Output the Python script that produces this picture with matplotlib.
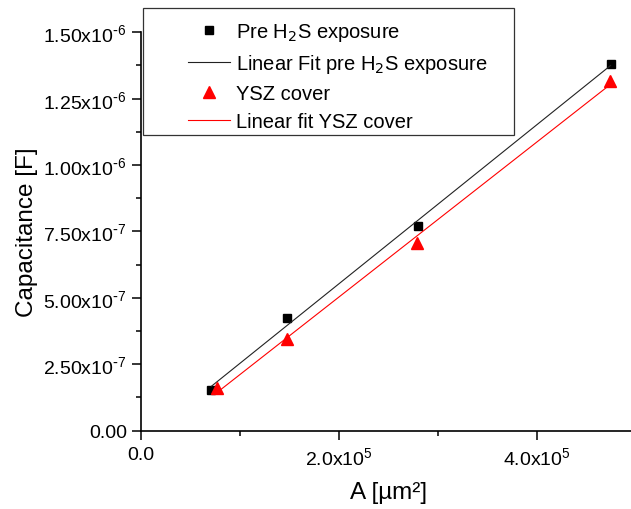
import numpy as np
import matplotlib
matplotlib.use('Agg')
import matplotlib.pyplot as plt
from matplotlib.ticker import FuncFormatter, MultipleLocator, AutoMinorLocator
from matplotlib.patches import Rectangle

plt.rcParams['font.family'] = ['Liberation Sans', 'DejaVu Sans']

# electrode area [um^2] and measured capacitance [F]
area_pre = [0.715e5, 1.481e5, 2.800e5, 4.747e5]
cap_pre = [0.154e-6, 0.424e-6, 0.772e-6, 1.380e-6]
area_ysz = [0.771e5, 1.481e5, 2.788e5, 4.740e5]
cap_ysz = [0.160e-6, 0.345e-6, 0.707e-6, 1.316e-6]

labels = ['Pre H$_2$S exposure', 'Linear Fit pre H$_2$S exposure',
          'YSZ cover', 'Linear fit YSZ cover']

def linefit(x, y):
    m, c = np.polyfit(x, y, 1)
    xs = np.array([min(x), max(x)])
    return xs, m*xs + c

def sci(v, digits):
    if v == 0:
        return '0.' + '0'*digits
    e = int(np.floor(np.log10(abs(v))))
    ex = str(e) if e >= 0 else r'\text{-}%d' % -e
    return r'$\mathregular{%.*fx10^{%s}}$' % (digits, v/10**e, ex)

fig = plt.figure(figsize=(6.31, 5.10), dpi=100)
ax = fig.add_axes([140.7/631, 1-431.5/510, 1-140.7/631, (431.5-33.3)/510])

ax.plot(area_pre, cap_pre, 's', color='black', ms=5.8, label=labels[0])
xf, yf = linefit(area_pre, cap_pre)
ax.plot(xf, yf, '-', color='#222222', lw=0.8, label=labels[1])
ax.plot(area_ysz, cap_ysz, '^', color='red', ms=8, label=labels[2])
xf, yf = linefit(area_ysz, cap_ysz)
ax.plot(xf, yf, '-', color='red', lw=0.8, label=labels[3])

ax.set_xlim(0, 4.953e5)
ax.set_ylim(0, 1.5e-6)
ax.xaxis.set_major_locator(MultipleLocator(2e5))
ax.xaxis.set_minor_locator(AutoMinorLocator(2))
ax.yaxis.set_major_locator(MultipleLocator(0.25e-6))
ax.yaxis.set_minor_locator(AutoMinorLocator(2))
ax.xaxis.set_major_formatter(FuncFormatter(lambda v, p: sci(v, 1)))
ax.yaxis.set_major_formatter(FuncFormatter(lambda v, p: sci(v, 2)))

for s in ['top', 'right']:
    ax.spines[s].set_visible(False)
for s in ['left', 'bottom']:
    ax.spines[s].set_linewidth(1.2)
ax.tick_params(which='major', length=6.5, width=1.1, labelsize=14, pad=3.5)
ax.tick_params(which='minor', length=3.6, width=1.1)
ax.tick_params(axis='x', which='major', pad=4.5)

ax.set_xlabel('A [µm²]', fontsize=17.5)
ax.set_ylabel('Capacitance [F]', fontsize=17.5)
ax.xaxis.set_label_coords(0.505, -0.128)
ax.yaxis.set_label_coords(-0.2095, 0.5)

leg = ax.legend(loc='upper left', bbox_to_anchor=(188/631, 1-22/510),
                bbox_transform=fig.transFigure, frameon=False, fontsize=14.5,
                borderpad=0, borderaxespad=0, handlelength=2.1,
                handletextpad=0.3, labelspacing=0.45, numpoints=1)
fig.add_artist(Rectangle((142.7/631, 1-136/510), (514-142.7)/631, (136-9.3)/510,
                         transform=fig.transFigure, fill=False,
                         ec='#333333', lw=0.9))

fig.savefig('out.png', dpi=100)
